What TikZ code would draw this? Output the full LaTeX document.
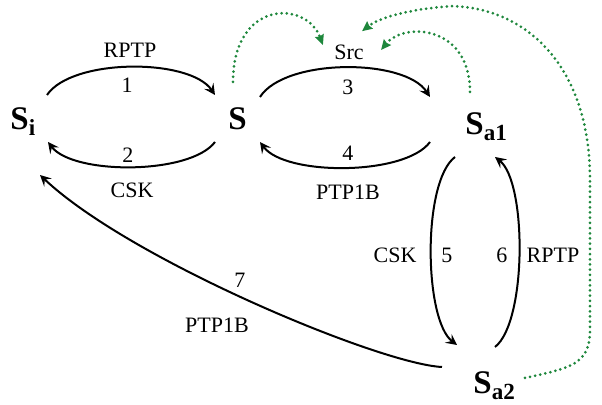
\documentclass[tikz,border=0pt]{standalone}
\usepackage{fontspec}
\setmainfont{Liberation Serif}
\usetikzlibrary{arrows.meta,calc}
\definecolor{dotgreen}{RGB}{30,135,60}
\begin{document}
\begin{tikzpicture}[x=0.5pt,y=-0.5pt,
  state/.style={anchor=base west,inner sep=0pt,font=\fontsize{16.5}{18}\selectfont\bfseries},
  lbl/.style={inner sep=0pt,font=\fontsize{11}{13}\selectfont},
  rxn/.style={line width=1pt,-{Stealth[length=5.5pt,width=5.5pt,inset=2.2pt]}},
  fb/.style={dotgreen,line width=1.5pt,dash pattern=on 0pt off 2.6pt,line cap=round,
    -{Stealth[length=5pt,width=4.5pt,inset=0.5pt,line cap=butt,sep=0pt]}}]
\useasboundingbox (0,0) rectangle (602,405);
% states
\node[state] (Si) at (10,130) {S\textsubscript{i}};
\node[state] (S) at (228,130) {S};
\node[state] (Sa1) at (465,135) {S\textsubscript{a1}};
\node[state] (Sa2) at (473,394) {S\textsubscript{a2}};
\node[lbl] (Src) at (349,52) {Src};
% labels
\node[lbl] (l1t) at (130,50) {RPTP};
\node[lbl] (l1) at (127,85) {1};
\node[lbl] (l2) at (128,155) {2};
\node[lbl] (l2t) at (132,190) {CSK};
\node[lbl] (l3) at (348,87) {3};
\node[lbl] (l4) at (348,153) {4};
\node[lbl] (l4t) at (348,192) {PTP1B};
\node[lbl] (l5t) at (395,255) {CSK};
\node[lbl] (l5) at (447,255) {5};
\node[lbl] (l6) at (502,255) {6};
\node[lbl] (l6t) at (553,255) {RPTP};
\node[lbl] (l7) at (240,280) {7};
\node[lbl] (l7t) at (217,325) {PTP1B};
% reactions
\draw[rxn] ($(Si.base west)+(37,-35)$) .. controls +(25,-37) and +(-25,-37) .. ($(S.base west)+(-13,-35)$);
\draw[rxn] ($(S.base west)+(-13,12)$) .. controls +(-25,33) and +(25,33) .. ($(Si.base west)+(38,12)$);
\draw[rxn] ($(S.base west)+(32,-33)$) .. controls +(25,-39) and +(-25,-39) .. ($(Sa1.base west)+(-35,-38)$);
\draw[rxn] ($(Sa1.base west)+(-35,7)$) .. controls +(-25,34) and +(25,34) .. ($(S.base west)+(32,12)$);
\draw[rxn] ($(Sa1.base west)+(-10,22)$) .. controls +(-33,25) and +(-33,-25) .. ($(Sa2.base west)+(-16,-49)$);
\draw[rxn] ($(Sa2.base west)+(22,-47)$) .. controls +(32,-25) and +(32,25) .. ($(Sa1.base west)+(30,22)$);
\draw[rxn] ($(Sa2.base west)+(-31,-27)$) .. controls +(-62,-3) and +(90,85) .. ($(Si.base west)+(30,45)$);
% feedback to Src
\draw[fb] ($(S.base west)+(5,-48)$) .. controls +(0,-82) and +(-17,-45) .. ($(Src.west)+(-11,-7)$);
\draw[fb] ($(Sa1.base west)+(5,-43)$) .. controls +(0,-67) and +(23,-28) .. ($(Src.east)+(17,-2)$);
\draw[fb] ($(Sa2.base west)+(52,-16)$) .. controls +(45,-10) and +(0,35) .. ($(Sa2.base west)+(117,-64)$)
  -- ($(Sa2.base west)+(117,-214)$) .. controls +(0,-120) and +(70,0) .. ($(Src.north)+(101,-38)$)
  .. controls +(-40,3) and +(18,-14) .. ($(Src.north)+(13,-13)$);
\end{tikzpicture}
\end{document}
